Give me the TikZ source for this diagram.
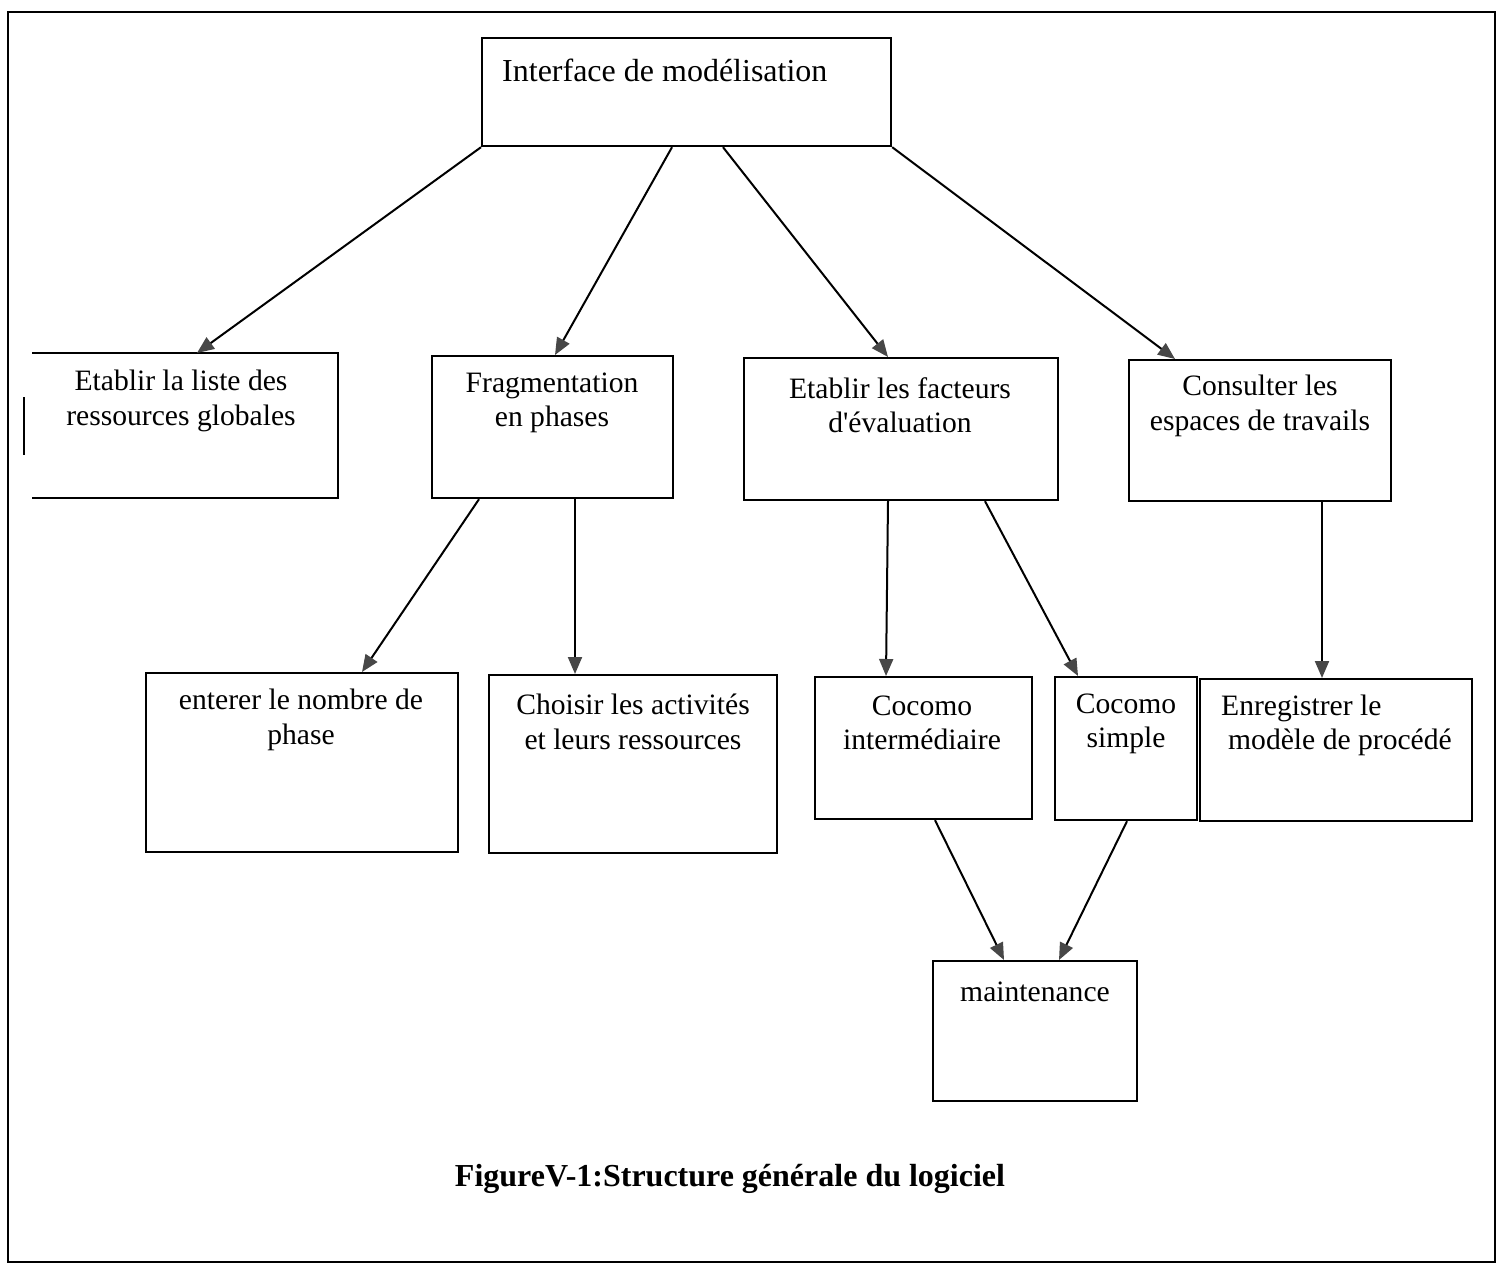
\documentclass[tikz,border=0pt]{standalone}
\usepackage{fontspec}
\setmainfont{Liberation Serif}
\usetikzlibrary{arrows.meta}
\begin{document}
\begin{tikzpicture}[x=1pt,y=-1pt,
  box/.style={draw, line width=2.2pt, rectangle, inner sep=0pt, anchor=north west},
  lbl/.style={font=\fontsize{29.6}{34.5}\selectfont, align=center, inner sep=0pt},
  link/.style={line width=2pt, -{Triangle[length=17pt,width=14pt,color=black!72]}},
]
\useasboundingbox (0,0) rectangle (1506,1265);
% page frame
\draw[line width=2.2pt] (8,12) rectangle (1495,1262);

% root
\node[box, minimum width=409pt, minimum height=108pt] (top) at (481,37) {};
\node[lbl, anchor=west, font=\fontsize{32}{34.5}\selectfont] (toptxt) at (502,70) {Interface de modélisation};

% first level
\node[box, draw=none, minimum width=304pt, minimum height=143pt] (b1) at (32,353) {};
\draw[line width=2.2pt] (b1.north west) -- (b1.north east) -- (b1.south east) -- (b1.south west);
\draw[line width=2.5pt] (24,397) -- (24,455);
\node[lbl] (b1txt) at (181,401) {Etablir la liste des\\ressources globales};

\node[box, minimum width=241pt, minimum height=142pt] (b2) at (431,355) {};
\node[lbl] (b2txt) at (552,403) {Fragmentation\\en phases};

\node[box, minimum width=314pt, minimum height=142pt] (b3) at (743,357) {};
\node[lbl] (b3txt) at (900,405) {Etablir les facteurs\\d\textquotesingle évaluation};

\node[box, minimum width=262pt, minimum height=141pt] (b4) at (1128,359) {};
\node[lbl] (b4txt) at (1260,406) {Consulter les\\espaces de travails};

% second level
\node[box, minimum width=312pt, minimum height=179pt] (c1) at (145,672) {};
\node[lbl] (c1txt) at (301,720) {enterer le nombre de\\phase};

\node[box, minimum width=288pt, minimum height=178pt] (c2) at (488,674) {};
\node[lbl] (c2txt) at (633,722) {Choisir les activités\\et leurs ressources};

\node[box, minimum width=217pt, minimum height=142pt] (c3) at (814,676) {};
\node[lbl] (c3txt) at (922,723) {Cocomo\\intermédiaire};

\node[box, minimum width=142pt, minimum height=143pt] (c4) at (1054,676) {};
\node[lbl] (c4txt) at (1126,724) {Cocomo\\simple};

\node[box, minimum width=272pt, minimum height=142pt] (c5) at (1199,678) {};
\node[lbl, align=left, anchor=west] (c5a) at (1221,708) {Enregistrer le};
\node[lbl, align=left, anchor=west] (c5b) at (1228,742) {modèle de procédé};

% third level
\node[box, minimum width=204pt, minimum height=140pt] (d) at (932,960) {};
\node[lbl] (dtxt) at (1035,992) {maintenance};

% caption
\node[lbl, font=\bfseries\fontsize{32}{34}\selectfont] (cap) at (730,1179) {FigureV-1:Structure générale du logiciel};

% connectors
\draw[link] (top.south west) -- ([xshift=165pt]b1.north west);
\draw[link] ([xshift=191pt]top.south west) -- ([xshift=124pt]b2.north west);
\draw[link] ([xshift=242pt]top.south west) -- ([xshift=145pt]b3.north west);
\draw[link] (top.south east) -- ([xshift=47pt]b4.north west);

\draw[link] ([xshift=48pt]b2.south west) -- ([xshift=217pt]c1.north west);
\draw[link] ([xshift=144pt]b2.south west) -- ([xshift=87pt]c2.north west);

\draw[link] ([xshift=145pt]b3.south west) -- ([xshift=72pt]c3.north west);
\draw[link] ([xshift=242pt]b3.south west) -- ([xshift=24pt]c4.north west);

\draw[link] ([xshift=194pt]b4.south west) -- ([xshift=123pt]c5.north west);

\draw[link] ([xshift=121pt]c3.south west) -- ([xshift=72pt]d.north west);
\draw[link] ([xshift=73pt]c4.south west) -- ([xshift=127pt]d.north west);
\end{tikzpicture}
\end{document}
